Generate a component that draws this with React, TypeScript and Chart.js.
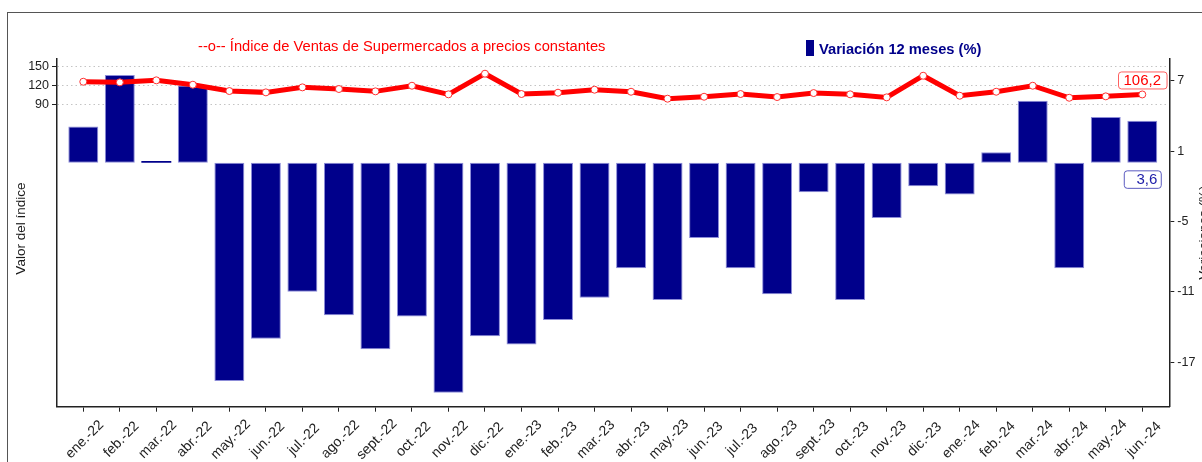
import React, { useEffect, useRef } from "react";
import { Chart, registerables } from "chart.js";

Chart.register(...registerables);

const months = [
  "ene.-22", "feb.-22", "mar.-22", "abr.-22", "may.-22", "jun.-22", "jul.-22", "ago.-22", "sept.-22", "oct.-22", "nov.-22", "dic.-22",
  "ene.-23", "feb.-23", "mar.-23", "abr.-23", "may.-23", "jun.-23", "jul.-23", "ago.-23", "sept.-23", "oct.-23", "nov.-23", "dic.-23",
  "ene.-24", "feb.-24", "mar.-24", "abr.-24", "may.-24", "jun.-24",
];

const indexValues = [
  126.3, 125.3, 128.5, 121.6, 111.6, 109.5, 117.4, 114.8, 111.1, 120.0, 106.4, 139.0,
  106.9, 109.0, 113.7, 110.5, 99.5, 102.6, 106.9, 102.1, 108.4, 106.4, 101.6, 135.8,
  104.2, 110.5, 120.0, 101.0, 103.2, 106.2,
];

const variationValues = [
  3.1, 7.5, 0.15, 6.6, -18.6, -15.0, -11.0, -13.0, -15.9, -13.1, -19.6, -14.8,
  -15.5, -13.4, -11.5, -9.0, -11.7, -6.4, -9.0, -11.2, -2.5, -11.7, -4.7, -2.0,
  -2.7, 0.9, 5.3, -9.0, 3.9, 3.6,
];

const leftTicks = [90, 120, 150];
const rightTicks = [-17, -11, -5, 1, 7];

const lineLegend = "--o-- Índice de Ventas de Supermercados a precios constantes";
const barLegend = "Variación 12 meses (%)";
const leftTitle = "Valor del índice";
const rightTitle = "Variaciones (%)";

const FONT = "'Liberation Sans', Arial, sans-serif";
const RED = "#ff0000";
const NAVY = "#00008b";
const INK = "#222222";

const fmt = (v: number) => v.toFixed(1).replace(".", ",");

export default function App() {
  const ref = useRef<HTMLCanvasElement>(null);

  useEffect(() => {
    document.body.style.margin = "0";
    const canvas = ref.current;
    if (!canvas) return;
    Chart.defaults.font.family = FONT;

    const decorations = {
      id: "decorations",
      beforeDraw(chart: any) {
        const ctx = chart.ctx;
        ctx.save();
        ctx.strokeStyle = "#555555";
        ctx.lineWidth = 1;
        ctx.strokeRect(7.5, 12.5, chart.width + 100, chart.height + 100);
        ctx.restore();
      },
      afterDraw(chart: any) {
        const ctx = chart.ctx;
        const area = chart.chartArea;
        ctx.save();
        // legend
        ctx.font = `14.7px ${FONT}`;
        ctx.fillStyle = RED;
        ctx.textAlign = "left";
        ctx.textBaseline = "alphabetic";
        ctx.fillText(lineLegend, 198, 51);
        ctx.fillStyle = NAVY;
        ctx.fillRect(806, 40, 8, 16);
        ctx.font = `bold 14.7px ${FONT}`;
        ctx.fillText(barLegend, 819, 54);

        // x tick labels, rotated around their centre
        const xs = chart.scales.x;
        ctx.fillStyle = INK;
        ctx.font = `14px ${FONT}`;
        ctx.textAlign = "center";
        ctx.textBaseline = "middle";
        months.forEach((m, i) => {
          const px = xs.getPixelForValue(i);
          ctx.save();
          ctx.translate(px + 1.5, 439.5);
          ctx.rotate(-Math.PI / 4);
          ctx.fillText(m, 0, 0);
          ctx.restore();
        });

        // axis titles
        const midY = (area.top + area.bottom) / 2;
        ctx.fillStyle = "#1a1a1a";
        ctx.font = `13.5px ${FONT}`;
        ctx.textAlign = "center";
        ctx.textBaseline = "alphabetic";
        ctx.save();
        ctx.translate(24.5, midY - 4);
        ctx.rotate(-Math.PI / 2);
        ctx.fillText(leftTitle, 0, 0);
        ctx.restore();
        ctx.save();
        ctx.translate(1208, midY);
        ctx.rotate(-Math.PI / 2);
        ctx.fillText(rightTitle, 0, 0);
        ctx.restore();

        // last value labels
        const lineMeta = chart.getDatasetMeta(1);
        const lp = lineMeta.data[lineMeta.data.length - 1];
        const lineText = fmt(indexValues[indexValues.length - 1]);
        ctx.font = `15px ${FONT}`;
        const lw = ctx.measureText(lineText).width + 11;
        const lh = 17;
        const lx = lp.x - lw / 2;
        const ly = lp.y - 6 - lh;
        ctx.beginPath();
        ctx.roundRect(lx + 0.5, ly + 0.5, lw, lh, 3);
        ctx.fillStyle = "#ffffff";
        ctx.fill();
        ctx.strokeStyle = "#ff6060";
        ctx.lineWidth = 1;
        ctx.stroke();
        ctx.fillStyle = RED;
        ctx.textAlign = "center";
        ctx.textBaseline = "middle";
        ctx.fillText(lineText, lp.x, ly + lh / 2 + 1);

        const barMeta = chart.getDatasetMeta(0);
        const bp = barMeta.data[barMeta.data.length - 1];
        const barText = fmt(variationValues[variationValues.length - 1]);
        const bw = 37;
        const bh = 17.5;
        const bx = bp.x - bw / 2;
        const by = bp.base + 7.5;
        ctx.beginPath();
        ctx.roundRect(bx + 0.5, by + 0.5, bw, bh, 3);
        ctx.fillStyle = "#ffffff";
        ctx.fill();
        ctx.strokeStyle = "#5a5ac0";
        ctx.stroke();
        ctx.fillStyle = "#1c1ca8";
        ctx.textAlign = "right";
        ctx.fillText(barText, bx + bw - 3.5, by + bh / 2 + 1);
        ctx.restore();
      },
    };

    const chart = new Chart(canvas, {
      type: "bar",
      data: {
        datasets: [
          {
            type: "bar",
            label: barLegend,
            data: variationValues.map((v, i) => ({ x: i, y: v })),
            backgroundColor: NAVY,
            borderColor: "#8c8cd8",
            borderWidth: (c: any) => (Math.abs(variationValues[c.dataIndex] ?? 1) < 0.5 ? 0 : 1),
            borderSkipped: false,
            barPercentage: 0.82,
            categoryPercentage: 1,
            xAxisID: "x",
            yAxisID: "y1",
            order: 2,
          },
          {
            type: "line",
            label: lineLegend,
            data: indexValues.map((v, i) => ({ x: i, y: v })),
            borderColor: RED,
            borderWidth: 5,
            pointRadius: 3.5,
            pointBackgroundColor: "#ffffff",
            pointBorderColor: "#ff3030",
            pointBorderWidth: 1,
            tension: 0,
            xAxisID: "x",
            yAxisID: "y",
            order: 1,
          },
        ],
      } as any,
      options: {
        responsive: false,
        animation: false,
        devicePixelRatio: 1,
        layout: { padding: { top: 58.5, left: 0, right: 0, bottom: 0 } },
        plugins: {
          legend: { display: false },
          tooltip: { enabled: false },
        },
        scales: {
          x: {
            type: "linear",
            position: "bottom",
            min: -0.72,
            max: 29.74,
            offset: false,
            afterBuildTicks: (s: any) => {
              s.ticks = months.map((_, i) => ({ value: i }));
            },
            afterFit: (s: any) => {
              s.height = 462 - 406.7;
            },
            grid: {
              display: true,
              offset: false,
              drawOnChartArea: false,
              drawTicks: true,
              tickLength: 5,
              tickColor: INK,
              tickWidth: 1,
            },
            border: { display: true, color: INK, width: 1.5 },
            ticks: {
              display: false,
              autoSkip: false,
            },
          },
          y: {
            type: "linear",
            position: "left",
            min: -387,
            max: 163,
            afterBuildTicks: (s: any) => {
              s.ticks = leftTicks.map((v) => ({ value: v }));
            },
            afterFit: (s: any) => {
              s.width = 57;
            },
            grid: {
              display: true,
              drawOnChartArea: true,
              color: "#c4c4c4",
              lineWidth: 1,
              tickLength: 5,
              tickColor: INK,
              tickWidth: 1,
              tickBorderDash: [],
            },
            border: { display: true, color: INK, width: 1.5, dash: [1.5, 3] },
            ticks: {
              padding: 3,
              color: INK,
              font: { size: 12.5, family: FONT },
              callback: (v: any) => String(v),
            },
          },
          y1: {
            type: "linear",
            position: "right",
            min: -20.8,
            max: 8.9,
            afterBuildTicks: (s: any) => {
              s.ticks = rightTicks.map((v) => ({ value: v }));
            },
            afterFit: (s: any) => {
              s.width = 1202 - 1169.3;
            },
            grid: {
              display: true,
              drawOnChartArea: false,
              tickLength: 5,
              tickColor: INK,
              tickWidth: 1,
            },
            border: { display: true, color: INK, width: 1.5 },
            ticks: {
              padding: 3,
              color: INK,
              font: { size: 12.5, family: FONT },
              callback: (v: any) => String(v),
            },
          },
        },
      } as any,
      plugins: [decorations],
    });

    return () => chart.destroy();
  }, []);

  return (
    <div style={{ width: 1202, height: 462, position: "relative", background: "#ffffff" }}>
      <canvas ref={ref} width={1202} height={462} style={{ display: "block" }} />
    </div>
  );
}
